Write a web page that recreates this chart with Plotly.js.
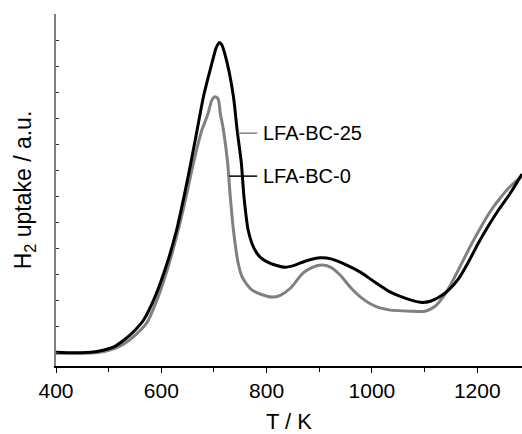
<!DOCTYPE html>
<html>
<head>
<meta charset="utf-8">
<script src="https://cdn.plot.ly/plotly-3.0.1.min.js"></script>
<style>html,body{margin:0;padding:0;background:#fff;}#chart{width:522px;height:434px;}</style>
</head>
<body>
<div id="chart"></div>
<script>
// LFA-BC-25 (black)
const tBC25 = [400,436,474,493,512,531,550,566,588,611,629,643,656,668,680,696,704,710,715,725,737,744,752,757,765,776,788,807,835,854,873,902,924,949,978,1006,1035,1063,1092,1111,1130,1145,1164,1183,1202,1221,1240,1263,1285];
const hBC25 = [0,-0.02,0.02,0.1,0.23,0.5,0.85,1.23,2.13,3.42,4.69,5.97,7.27,8.54,9.82,11.1,11.69,11.9,11.81,11.12,9.82,8.54,7.27,5.97,4.69,4.0,3.65,3.42,3.27,3.35,3.5,3.63,3.58,3.38,3.08,2.69,2.31,2.08,1.92,1.96,2.15,2.38,2.81,3.46,4.19,4.85,5.46,6.12,6.85];
// LFA-BC-0 (grey)
const tBC0 = [400,474,493,512,531,550,572,594,615,632,647,661,677,683,689,696,702,708,712,718,726,731,737,746,753,762,772,788,810,826,845,869,888,905,921,940,959,981,1006,1035,1073,1101,1120,1135,1149,1168,1187,1206,1225,1244,1263,1285];
const hBC0 = [-0.04,-0.02,0.04,0.15,0.35,0.65,1.12,2.13,3.42,4.69,5.97,7.27,8.54,8.85,9.19,9.69,9.82,9.73,9.19,8.54,7.27,5.97,4.69,3.42,2.92,2.62,2.4,2.24,2.12,2.19,2.46,3.04,3.27,3.35,3.27,2.96,2.5,2.08,1.77,1.62,1.58,1.58,1.77,2.12,2.58,3.32,4.08,4.78,5.42,5.94,6.38,6.77];

const labels = ["LFA-BC-25", "LFA-BC-0"];
const labelT = [790, 790];
const labelH = [8.42, 6.77];
const leaderStart = [746, 729];
const leaderEnd = [782, 782];
const leaderColors = ["#808080", "#000000"];

const xTicks = [400, 600, 800, 1000, 1200];

const FONT = "Liberation Sans, Arial, sans-serif";

const traces = [
  {x: tBC0, y: hBC0, mode: "lines", line: {color: "#808080", width: 3, shape: "spline", smoothing: 0.7}, name: labels[1], hoverinfo: "skip"},
  {x: tBC25, y: hBC25, mode: "lines", line: {color: "#000000", width: 3, shape: "spline", smoothing: 0.7}, name: labels[0], hoverinfo: "skip"}
];

const shapes = labels.map((l, i) => ({
  type: "line", xref: "x", yref: "y",
  x0: leaderStart[i], x1: leaderEnd[i], y0: labelH[i], y1: labelH[i],
  line: {color: leaderColors[i], width: 1.5}
}));

const annotations = labels.map((l, i) => ({
  x: labelT[i], y: labelH[i], xref: "x", yref: "y",
  text: l, showarrow: false, xanchor: "left", yanchor: "middle",
  font: {family: FONT, size: 20, color: "#000"}
}));

const layout = {
  width: 522, height: 434,
  margin: {l: 56, r: 0, t: 14, b: 68},
  paper_bgcolor: "#fff", plot_bgcolor: "#fff",
  showlegend: false,
  font: {family: FONT, color: "#000"},
  xaxis: {
    range: [400, 1285],
    tickvals: xTicks, ticktext: xTicks.map(String),
    ticks: "outside", ticklen: 5, tickwidth: 1, tickcolor: "#000",
    minor: {dtick: 100, tick0: 0, ticks: "outside", ticklen: 4, tickcolor: "#000", tickwidth: 1},
    showline: true, linecolor: "#000", linewidth: 1.5,
    showgrid: false, zeroline: false,
    tickfont: {family: FONT, size: 21, color: "#000"},
    title: {text: "T / K", font: {family: FONT, size: 22, color: "#000"}, standoff: 16},
    fixedrange: true
  },
  yaxis: {
    range: [-0.527, 13],
    tick0: 0, dtick: 1,
    ticks: "inside", ticklen: 3, tickwidth: 1, tickcolor: "#333",
    showticklabels: false,
    showline: true, linecolor: "#808080", linewidth: 2,
    showgrid: false, zeroline: false,
    title: {text: "H<sub>2</sub> uptake / a.u.", font: {family: FONT, size: 23, color: "#000"}, standoff: 16},
    fixedrange: true
  },
  shapes: shapes,
  annotations: annotations
};

Plotly.newPlot("chart", traces, layout, {displayModeBar: false, staticPlot: true});
</script>
</body>
</html>
